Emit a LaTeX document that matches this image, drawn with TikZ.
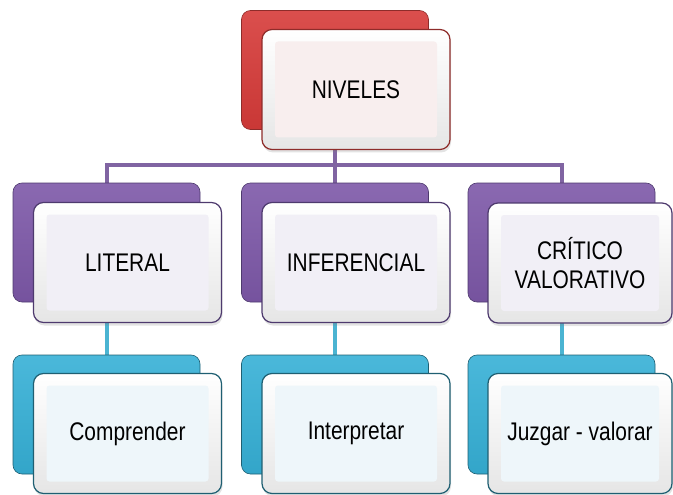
\documentclass[tikz,border=0pt]{standalone}
\usepackage{fontspec}
\setmainfont{Liberation Sans}[FakeStretch=0.82]
\usetikzlibrary{shadows,calc}
\definecolor{redA}{HTML}{D63B39}
\definecolor{redB}{HTML}{8E2C2A}
\definecolor{redT}{HTML}{F8EEEE}
\definecolor{purA}{HTML}{7D58A8}
\definecolor{purB}{HTML}{4E3A6E}
\definecolor{purT}{HTML}{F1EFF6}
\definecolor{aquA}{HTML}{36B0D6}
\definecolor{aquB}{HTML}{1F5F72}
\definecolor{aquT}{HTML}{EEF6FA}
\definecolor{purL}{HTML}{8064A2}
\definecolor{aquL}{HTML}{4BB4D2}
\pgfdeclarelayer{bg}
\pgfsetlayers{bg,main}
\tikzset{
  backbox/.style 2 args={rounded corners=9pt, minimum width=187pt, minimum height=119pt,
    inner sep=0pt, top color=#1!90!white, bottom color=#1!94!black, draw=#2, line width=0.6pt},
  frontbox/.style 2 args={rounded corners=10pt, minimum width=188pt, minimum height=120pt,
    inner sep=0pt, align=center, font=\fontsize{25.5}{28.4}\selectfont,
    top color=white, bottom color=gray!20, draw=#2, line width=1.2pt,
    drop shadow={opacity=0.22, shadow xshift=1pt, shadow yshift=-3pt},
    path picture={\fill[#1, rounded corners=3pt]
      ($(path picture bounding box.south west)+(13pt,12pt)$) rectangle
      ($(path picture bounding box.north east)+(-13pt,-12pt)$);}},
  narrow/.style={minimum width=184pt},
  pline/.style={draw=purL, line width=4pt},
  cline/.style={draw=aquL, line width=4pt}
}
\begin{document}
\begin{tikzpicture}[x=1pt,y=-1pt]
\useasboundingbox (0,0) rectangle (673,495);
% top
\node[backbox={redA}{redB}] (b0) at (335,70) {};
\node[frontbox={redT}{redB}] (f0) at (356,89.5) {NIVELES};
% level 2
\node[backbox={purA}{purB}] (b1) at (106.5,242.5) {};
\node[backbox={purA}{purB}] (b2) at (335,242.5) {};
\node[backbox={purA}{purB}] (b3) at (561.5,242.5) {};
\node[frontbox={purT}{purB}] (f1) at (127.5,262.5) {LITERAL};
\node[frontbox={purT}{purB}] (f2) at (356,262.5) {INFERENCIAL};
\node[frontbox={purT}{purB}, narrow] (f3) at (580,263) {CRÍTICO\\VALORATIVO};
% level 3
\node[backbox={aquA}{aquB}] (c1) at (106.5,414.5) {};
\node[backbox={aquA}{aquB}] (c2) at (335,414.5) {};
\node[backbox={aquA}{aquB}] (c3) at (561.5,414.5) {};
\node[frontbox={aquT}{aquB}] (g1) at (127.5,433.5) {Comprender};
\node[frontbox={aquT}{aquB}] (g2) at (356,433.5) {Interpretar};
\node[frontbox={aquT}{aquB}, narrow] (g3) at (580,433.5) {Juzgar - valorar};
% connectors
\begin{pgfonlayer}{bg}
\coordinate (bus) at (335,165);
\draw[pline] (b0.south) -- (b0.south |- bus);
\draw[pline] (b1.north) |- (b3.north |- bus) -- (b3.north);
\draw[pline] (b2.north) -- (b2.north |- bus);
\draw[cline] (b1.south) -- (c1.north);
\draw[cline] (b2.south) -- (c2.north);
\draw[cline] (b3.south) -- (c3.north);
\end{pgfonlayer}
\end{tikzpicture}
\end{document}
